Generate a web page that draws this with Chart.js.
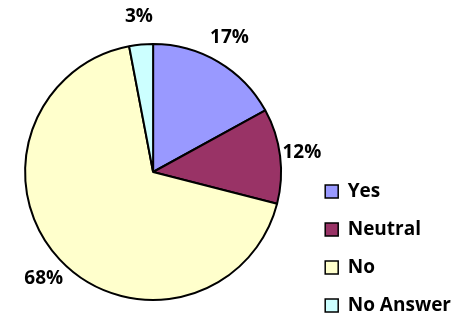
<!DOCTYPE html>
<html>
<head>
<meta charset="utf-8">
<script src="https://cdn.jsdelivr.net/npm/chart.js@4.4.1/dist/chart.umd.min.js"></script>
<style>
    html, body { margin: 0; padding: 0; background: #fff; }
    #wrap { width: 457px; height: 315px; position: relative; }
</style>
</head>
<body>
<div id="wrap"><canvas id="chart" width="457" height="315"></canvas></div>
<script>
    const categories = ['Yes', 'Neutral', 'No', 'No Answer'];
    const shares = [17, 12, 68, 3];
    const sliceColors = ['#9999FF', '#993366', '#FFFFCC', '#CCFFFF'];

    const fontFamily = '"Open Sans", Lato, sans-serif';

    // percentage labels sitting just outside each slice
    const outsideLabels = {
        id: 'outsideLabels',
        afterDatasetsDraw(chart) {
            const ctx = chart.ctx;
            const meta = chart.getDatasetMeta(0);
            ctx.save();
            ctx.font = 'bold 19px ' + fontFamily;
            ctx.fillStyle = '#000';
            ctx.textAlign = 'center';
            ctx.textBaseline = 'middle';
            meta.data.forEach((arc, i) => {
                const p = arc.getProps(['x', 'y', 'startAngle', 'endAngle', 'outerRadius'], true);
                const mid = (p.startAngle + p.endAngle) / 2;
                // text is wider than tall, so the gap differs per axis
                const dx = p.outerRadius + 22;
                const dy = p.outerRadius + 28;
                ctx.fillText(shares[i] + '%', p.x + Math.cos(mid) * dx, p.y + Math.sin(mid) * dy);
            });
            ctx.restore();
        }
    };

    // legend sits lower than the centred pie, push it down a bit
    const legendDown = {
        id: 'legendDown',
        afterLayout(chart) {
            const lg = chart.legend;
            if (!lg) return;
            lg.top += 33;
            lg.bottom += 33;
        }
    };

    new Chart(document.getElementById('chart'), {
        type: 'pie',
        data: {
            labels: categories,
            datasets: [{
                data: shares,
                backgroundColor: sliceColors,
                borderColor: '#000',
                borderWidth: 2
            }]
        },
        options: {
            responsive: false,
            animation: false,
            layout: {
                padding: { top: 43, bottom: 14, left: -2, right: -4 }
            },
            plugins: {
                tooltip: { enabled: false },
                legend: {
                    position: 'right',
                    align: 'end',
                    labels: {
                        boxWidth: 13,
                        boxHeight: 13,
                        padding: 19,
                        color: '#000',
                        font: { family: fontFamily, size: 19, weight: 'bold' },
                        generateLabels(chart) {
                            return categories.map((c, i) => ({
                                text: c,
                                fillStyle: sliceColors[i],
                                strokeStyle: '#000',
                                lineWidth: 1.5,
                                index: i
                            }));
                        }
                    }
                }
            }
        },
        plugins: [outsideLabels, legendDown]
    });
</script>
</body>
</html>
